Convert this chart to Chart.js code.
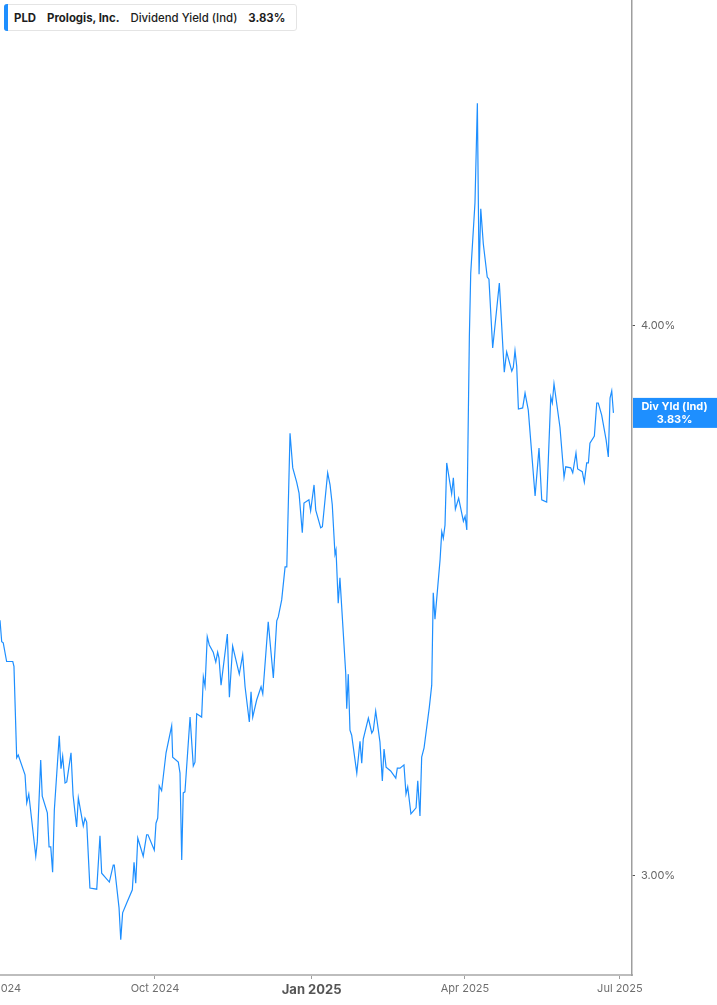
<!DOCTYPE html>
<html lang="en">
<head>
    <meta charset="UTF-8">
    <title>PLD Dividend Yield</title>
    <script src="https://cdn.jsdelivr.net/npm/chart.js"></script>
    <style>
body {
    margin: 0;
    padding: 0;
    background: #ffffff;
    font-family: Inter, "Noto Sans", sans-serif;
}

.wrap {
    position: relative;
    width: 717px;
    height: 1005px;
}

.legend-box {
    position: absolute;
    left: 4px;
    top: 4px;
    height: 25px;
    padding: 0 11px 0 9px;
    border: 1px solid #e4e4e4;
    border-radius: 3px;
    background: #fff;
    display: flex;
    align-items: center;
    font-size: 11.4px;
    color: #1d1d1d;
    white-space: nowrap;
}

.legend-box::before {
    content: "";
    position: absolute;
    left: -1px;
    top: -1px;
    bottom: -1px;
    width: 4px;
    border-radius: 3px 0 0 3px;
    background: #1e8fff;
}

.legend-box span { margin-right: 11px; }
.legend-box span:last-child { margin-right: 0; }
.legend-box .b { font-weight: 700; }
.legend-box .m { font-weight: 500; }
    </style>
</head>
<body>
    <div class="wrap">
        <canvas id="yieldChart" width="717" height="1005"></canvas>
        <div class="legend-box">
            <span class="b">PLD</span>
            <span class="b">Prologis, Inc.</span>
            <span class="m">Dividend Yield (Ind)</span>
            <span class="b" id="legendValue"></span>
        </div>
    </div>
    <script>
        // days since 2024-07-01
        const days = [
            1.0, 2.0, 2.9, 4.9, 8.5, 9.2, 10.8, 11.7, 15.7, 16.7, 17.9, 22.0, 22.9, 24.9, 25.8, 28.8, 29.8, 30.8, 31.9, 32.9,
            35.8, 36.8, 37.8, 39.2, 40.2, 42.7, 43.9, 46.0, 47.0, 49.9, 50.9, 51.9, 53.8, 57.8, 59.7, 60.7, 65.2, 67.5, 68.1, 70.9,
            71.9, 73.0, 75.4, 78.7, 79.7, 80.7, 81.9, 85.1, 87.1, 87.9, 91.6, 92.6, 93.6, 94.5, 95.9, 98.5, 101.8, 102.4, 105.7, 106.7,
            107.7, 108.6, 109.6, 112.6, 114.5, 115.5, 116.5, 119.4, 120.4, 121.4, 122.7, 123.9, 126.2, 127.7, 128.8, 129.6, 130.8, 134.5, 135.7, 137.6,
            141.5, 143.5, 144.9, 147.4, 148.4, 149.4, 151.7, 154.3, 155.3, 158.5, 161.5, 163.5, 164.4, 166.4, 168.4, 169.4, 171.3, 172.9, 175.2, 176.6,
            178.5, 179.5, 182.4, 183.4, 185.4, 186.4, 189.3, 190.3, 193.4, 194.8, 196.1, 197.7, 198.3, 199.6, 200.6, 204.0, 204.6, 205.5, 206.5, 207.5,
            210.5, 212.4, 213.4, 214.3, 217.3, 219.3, 220.2, 221.6, 224.1, 225.5, 226.5, 227.7, 230.4, 233.4, 234.3, 235.9, 238.2, 239.4, 240.4, 242.3,
            245.3, 246.3, 247.6, 248.6, 250.0, 253.1, 254.5, 255.4, 256.4, 259.4, 260.4, 261.3, 262.3, 263.3, 266.2, 267.2, 268.4, 270.3, 273.1, 274.1,
            275.1, 276.6, 277.4, 279.9, 281.3, 282.3, 283.3, 284.8, 287.1, 288.1, 290.3, 294.2, 297.1, 298.5, 301.5, 302.4, 303.4, 304.4, 305.4, 307.9,
            309.3, 311.2, 315.2, 317.5, 319.1, 322.0, 324.4, 325.3, 326.3, 329.8, 332.2, 333.2, 336.1, 337.3, 339.2, 340.2, 342.9, 344.1, 345.5, 346.5,
            347.4, 350.0, 351.4, 352.3, 354.3, 356.9, 358.2, 359.2, 360.2, 361.2
        ];

        const yields = [
            3.465, 3.426, 3.424, 3.390, 3.390, 3.381, 3.215, 3.220, 3.184, 3.133, 3.149, 3.036, 3.062, 3.211, 3.145, 3.115, 3.053, 3.053, 3.007, 3.120,
            3.255, 3.195, 3.218, 3.169, 3.171, 3.224, 3.147, 3.089, 3.142, 3.091, 3.105, 3.098, 2.978, 2.976, 3.073, 3.005, 2.989, 3.020, 3.020, 2.942,
            2.884, 2.933, 2.951, 2.975, 3.025, 2.987, 3.069, 3.036, 3.075, 3.075, 3.047, 3.096, 3.105, 3.164, 3.155, 3.224, 3.273, 3.216, 3.207, 3.187,
            3.029, 3.151, 3.153, 3.289, 3.200, 3.207, 3.295, 3.289, 3.362, 3.345, 3.435, 3.420, 3.407, 3.389, 3.407, 3.396, 3.347, 3.440, 3.325, 3.418,
            3.367, 3.402, 3.344, 3.280, 3.335, 3.289, 3.320, 3.344, 3.331, 3.462, 3.360, 3.464, 3.471, 3.502, 3.562, 3.562, 3.805, 3.742, 3.716, 3.696,
            3.624, 3.678, 3.684, 3.664, 3.711, 3.665, 3.633, 3.635, 3.733, 3.711, 3.675, 3.585, 3.593, 3.496, 3.542, 3.369, 3.304, 3.367, 3.265, 3.256,
            3.187, 3.245, 3.205, 3.249, 3.287, 3.260, 3.265, 3.300, 3.244, 3.173, 3.231, 3.198, 3.191, 3.178, 3.196, 3.196, 3.202, 3.149, 3.162, 3.113,
            3.124, 3.173, 3.109, 3.216, 3.233, 3.307, 3.347, 3.515, 3.467, 3.575, 3.626, 3.614, 3.638, 3.751, 3.695, 3.724, 3.667, 3.687, 3.645, 3.654,
            3.629, 3.980, 4.096, 4.224, 4.405, 4.094, 4.213, 4.149, 4.089, 4.085, 3.960, 4.078, 3.916, 3.953, 3.918, 3.925, 3.955, 3.927, 3.849, 3.851,
            3.878, 3.847, 3.691, 3.778, 3.684, 3.680, 3.871, 3.860, 3.895, 3.816, 3.725, 3.744, 3.742, 3.733, 3.769, 3.740, 3.735, 3.716, 3.751, 3.751,
            3.787, 3.800, 3.860, 3.860, 3.838, 3.793, 3.762, 3.869, 3.882, 3.842
        ];

        const currentYield = 3.83;
        const tickDays = [0, 92, 184, 274, 365];
        const tickLabels = ['Jul 2024', 'Oct 2024', 'Jan 2025', 'Apr 2025', 'Jul 2025'];
        const yTicks = [3.0, 4.0];
        const lineColor = '#1e8fff';

        document.getElementById('legendValue').innerText = currentYield.toFixed(2) + '%';

        const points = days.map((d, i) => ({ x: d, y: yields[i] }));

        const lastValueTag = {
            id: 'lastValueTag',
            afterDraw(chart) {
                const ctx = chart.ctx;
                const area = chart.chartArea;
                const y = chart.scales.y.getPixelForValue(yields[yields.length - 1]);
                ctx.save();
                ctx.fillStyle = lineColor;
                ctx.fillRect(area.right + 1, y - 15, chart.width - area.right - 1, 30);
                ctx.fillStyle = '#ffffff';
                ctx.font = 'bold 11px Inter, sans-serif';
                ctx.textAlign = 'center';
                ctx.textBaseline = 'middle';
                const cx = (area.right + chart.width) / 2;
                ctx.fillText('Div Yld (Ind)', cx, y - 6);
                ctx.fillText(currentYield.toFixed(2) + '%', cx, y + 7);
                ctx.restore();
            }
        };

        function initChart() {
            const ctx = document.getElementById('yieldChart').getContext('2d');
            new Chart(ctx, {
                type: 'line',
                data: {
                    datasets: [{
                        data: points,
                        borderColor: lineColor,
                        borderWidth: 1.2,
                        pointRadius: 0,
                        tension: 0,
                        fill: false
                    }]
                },
                options: {
                    responsive: false,
                    animation: false,
                    layout: { padding: 0, autoPadding: false },
                    plugins: { legend: { display: false }, tooltip: { enabled: false } },
                    scales: {
                        x: {
                            type: 'linear',
                            min: 1.0,
                            max: 372.1,
                            afterBuildTicks: scale => { scale.ticks = tickDays.map(v => ({ value: v })); },
                            afterFit: scale => {
                                scale.height = 30;
                                scale.paddingLeft = 0;
                                scale.paddingRight = 0;
                            },
                            border: { display: true, color: '#bdbdbd', width: 2 },
                            grid: { drawOnChartArea: false, drawTicks: true, tickLength: 4, color: '#9e9e9e' },
                            ticks: {
                                autoSkip: false,
                                maxRotation: 0,
                                padding: 3,
                                color: ctx => tickDays[ctx.index] === 184 ? '#555555' : '#6e6e6e',
                                font: ctx => tickDays[ctx.index] === 184
                                    ? { family: 'Inter', size: 13, weight: 'bold' }
                                    : { family: 'Inter', size: 11 },
                                callback: (v) => tickLabels[tickDays.indexOf(v)]
                            }
                        },
                        y: {
                            position: 'right',
                            min: 2.82,
                            max: 4.5927,
                            afterBuildTicks: scale => { scale.ticks = yTicks.map(v => ({ value: v })); },
                            afterFit: scale => {
                                scale.width = 85;
                                scale.paddingTop = 0;
                                scale.paddingBottom = 0;
                            },
                            border: { display: true, color: '#9e9e9e', width: 1.5 },
                            grid: { drawOnChartArea: false, drawTicks: true, tickLength: 3, color: '#555555' },
                            ticks: {
                                padding: 6,
                                color: '#666666',
                                font: { family: 'Inter', size: 11 },
                                callback: v => v.toFixed(2) + '%'
                            }
                        }
                    }
                },
                plugins: [lastValueTag]
            });
        }

        initChart();
    </script>
</body>
</html>
